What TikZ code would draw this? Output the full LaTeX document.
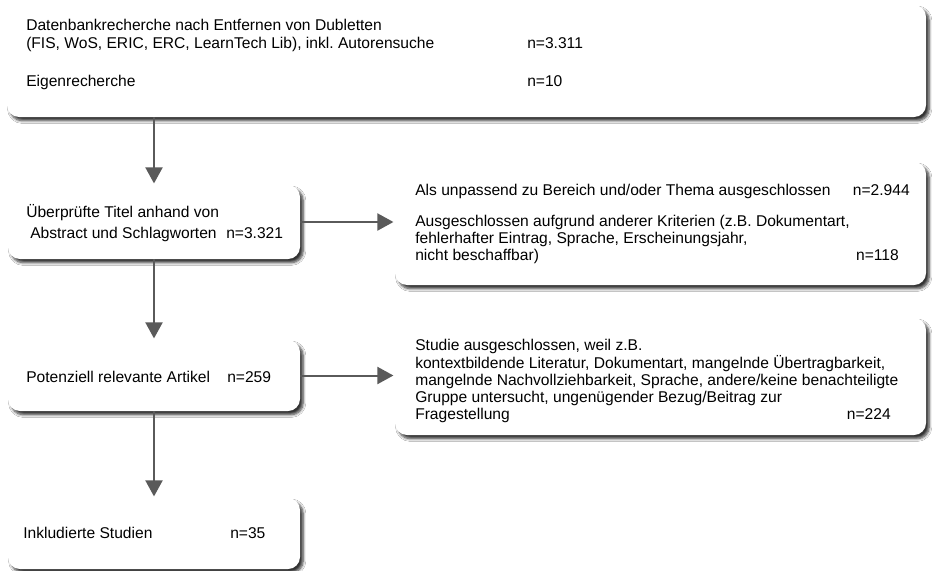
\documentclass[tikz,border=0pt]{standalone}
\usepackage{fontspec}
\setmainfont{Liberation Sans}
\frenchspacing
\usetikzlibrary{arrows.meta,fit,shadows.blur}
\definecolor{arrowgray}{HTML}{5A5A5A}
\tikzset{
  box/.style={fill=white, draw=none, rounded corners=9pt, inner sep=0pt,
    blur shadow={shadow xshift=2.4pt, shadow yshift=-2.8pt, shadow blur steps=6,
                 shadow blur radius=2pt, shadow opacity=80}},
  txt/.style={anchor=base west, inner sep=0pt, font=\fontsize{11.7}{13}\selectfont},
  txtr/.style={anchor=base east, inner sep=0pt, font=\fontsize{11.7}{13}\selectfont},
  arr/.style={draw=arrowgray, line width=1.5pt,
    -{Triangle[width=12.75pt,length=12pt]}, shorten >=1pt}
}
\begin{document}
\begin{tikzpicture}[x=0.75pt,y=-0.75pt]
\useasboundingbox (0,0) rectangle (932,571);
\fill[white] (0,0) rectangle (932,571);
% boxes
\node[box, fit={(7,5) (926,117)}] (b1) {};
\node[box, fit={(8,185) (300,259)}] (b2) {};
\node[box, fit={(395,162) (926,285)}] (b3) {};
\node[box, fit={(8,340) (300,411)}] (b4) {};
\node[box, fit={(395,318) (926,435)}] (b5) {};
\node[box, fit={(8,498) (300,569)}] (b6) {};
% box 1
\node[txt] (t1a) at (26,30) {Datenbankrecherche nach Entfernen von Dubletten};
\node[txt] (t1b) at (26,48) {(FIS, WoS, ERIC, ERC, LearnTech Lib), inkl. Autorensuche};
\node[txt] (n1a) at (527,48) {n=3.311};
\node[txt] (t1c) at (26,86) {Eigenrecherche};
\node[txt] (n1b) at (527,86) {n=10};
% box 2
\node[txt] (t2a) at (26,217) {Überprüfte Titel anhand von};
\node[txt] (t2b) at (30,238) {Abstract und Schlagworten};
\node[txt] (n2) at (226,238) {n=3.321};
% box 3
\node[txt] (t3a) at (415,195) {Als unpassend zu Bereich und/oder Thema ausgeschlossen};
\node[txtr] (n3a) at (910,195) {n=2.944};
\node[txt] (t3b) at (415,226) {Ausgeschlossen aufgrund anderer Kriterien (z.B. Dokumentart,};
\node[txt] (t3c) at (415,243) {fehlerhafter Eintrag, Sprache, Erscheinungsjahr,};
\node[txt] (t3d) at (415,260) {nicht beschaffbar)};
\node[txtr] (n3b) at (899,260) {n=118};
% box 4
\node[txt] (t4) at (26,382) {Potenziell relevante Artikel};
\node[txt] (n4) at (227,382) {n=259};
% box 5
\node[txt] (t5a) at (415,350) {Studie ausgeschlossen, weil z.B.};
\node[txt] (t5b) at (415,368) {kontextbildende Literatur, Dokumentart, mangelnde Übertragbarkeit,};
\node[txt] (t5c) at (415,385) {mangelnde Nachvollziehbarkeit, Sprache, andere/keine benachteiligte};
\node[txt] (t5d) at (415,402) {Gruppe untersucht, ungenügender Bezug/Beitrag zur};
\node[txt] (t5e) at (415,419) {Fragestellung};
\node[txtr] (n5) at (891,419) {n=224};
% box 6
\node[txt] (t6) at (23,538) {Inkludierte Studien};
\node[txt] (n6) at (230,538) {n=35};
% arrows
\draw[arr] (b1.south -| b2.north) -- (b2.north);
\draw[arr] (b2.south) -- (b4.north);
\draw[arr] (b4.south) -- (b6.north);
\draw[arr] (b2.east) -- (b2.east -| b3.west);
\draw[arr] (b4.east) -- (b4.east -| b5.west);
\end{tikzpicture}
\end{document}
